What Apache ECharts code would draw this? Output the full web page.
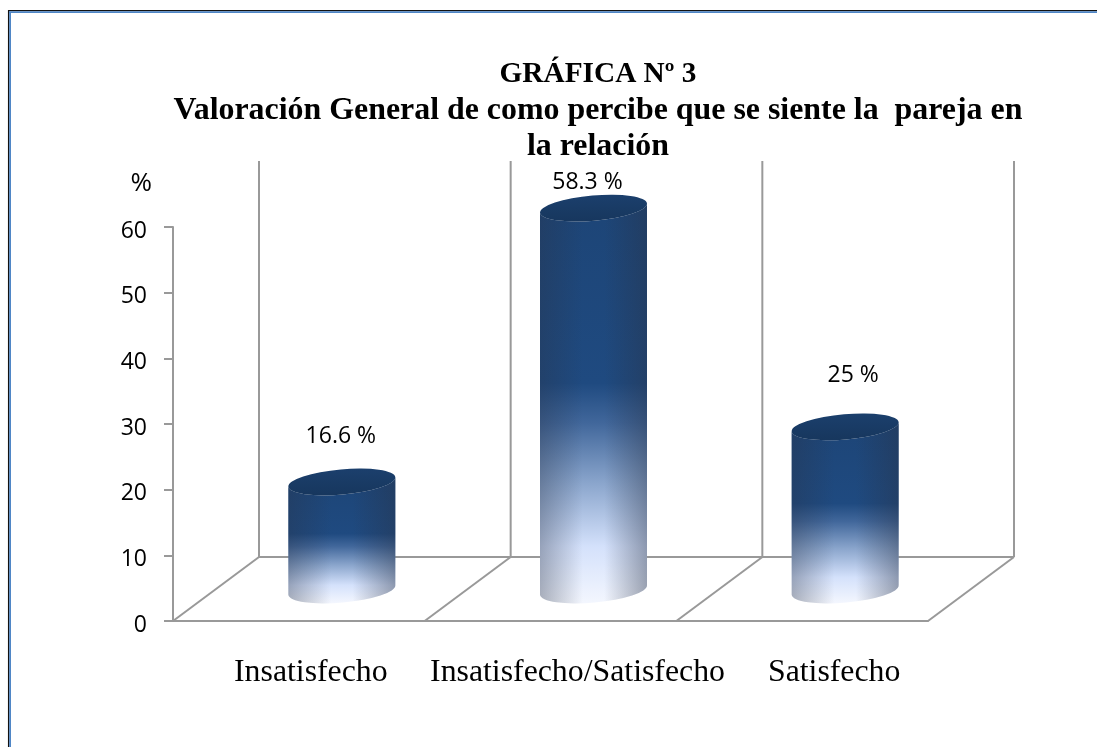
<!DOCTYPE html>
<html>
<head>
<meta charset="utf-8">
<title>Gráfica Nº 3</title>
<style>
  html, body { margin: 0; padding: 0; background: #fff; }
  #chartContainer { width: 1097px; height: 747px; }
</style>
<script src="https://cdn.jsdelivr.net/npm/echarts@6/dist/echarts.min.js"></script>
</head>
<body>
<div id="chartContainer"></div>
<script>
// Datos
const categories = ['Insatisfecho', 'Insatisfecho/Satisfecho', 'Satisfecho'];
const percentValues = [16.6, 58.3, 25];
const valueLabels = ['16.6 %', '58.3 %', '25 %'];
const yTicks = [0, 10, 20, 30, 40, 50, 60];

// Profundidad del falso 3D, en pixeles
const depthX = 86;
const depthY = 64;
const wallExtra = 2;
const lineColor = '#999999';
// Posicion de cada etiqueta respecto a la tapa del cilindro
const labelLift = [46, 26, 51];
const labelShift = [-1, -6, 8];
// Relleno izquierdo de cada etiqueta del eje x, tal como estan descentradas en el original
const catPadding = [24, 54, 64];

const cylRx = 53.7;
const cylRy = 12.6;
const cylTilt = 5 * Math.PI / 180;

function ellipseEnds(cx, cy) {
    const dx = cylRx * Math.cos(cylTilt);
    const dy = cylRx * Math.sin(cylTilt);
    return { lx: cx - dx, ly: cy + dy, rx: cx + dx, ry: cy - dy };
}

function arcTo(x, y, sweep) {
    return `A ${cylRx} ${cylRy} -5 1 ${sweep} ${x} ${y}`;
}

// Paredes y suelo
function renderFrame(params, api) {
    const band = api.size([1, 0])[0];
    const origin = api.coord([0, 0]);
    const top = api.coord([0, yTicks[yTicks.length - 1]]);
    const left = origin[0] - band / 2;
    const n = categories.length;
    const style = { stroke: lineColor, lineWidth: 2, fill: null };
    const children = [];

    for (let i = 0; i <= n; i++) {
        const x = left + band * i;
        children.push({ type: 'line', style, shape: { x1: x + depthX, y1: top[1] - depthY - wallExtra, x2: x + depthX, y2: origin[1] - depthY } });
        children.push({ type: 'line', style, shape: { x1: x, y1: origin[1], x2: x + depthX, y2: origin[1] - depthY } });
    }
    children.push({ type: 'line', style, shape: { x1: left + depthX, y1: origin[1] - depthY, x2: left + band * n + depthX, y2: origin[1] - depthY } });
    return { type: 'group', silent: true, children };
}

// Cilindro de cada categoria, a media profundidad
function renderCylinder(params, api) {
    const i = api.value(0);
    const base = api.coord([i, 0]);
    const head = api.coord([i, api.value(1)]);
    const cx = base[0] + depthX / 2;
    const yb = base[1] - depthY / 2 + 1;
    const yt = head[1] - depthY / 2 + 2;
    const t = ellipseEnds(cx, yt);
    const b = ellipseEnds(cx, yb);

    const body = `M ${t.lx} ${t.ly} L ${b.lx} ${b.ly} ${arcTo(b.rx, b.ry, 0)} L ${t.rx} ${t.ry} ${arcTo(t.lx, t.ly, 1)} Z`;
    const cap = `M ${t.lx} ${t.ly} ${arcTo(t.rx, t.ry, 1)} ${arcTo(t.lx, t.ly, 1)} Z`;

    return {
        type: 'group',
        children: [
            {
                type: 'path',
                shape: { pathData: body, layout: 'none' },
                style: {
                    fill: {
                        type: 'linear', x: 0, y: 0, x2: 0, y2: 1,
                        colorStops: [
                            { offset: 0, color: '#1d4577' },
                            { offset: 0.45, color: '#1f4a80' },
                            { offset: 0.55, color: '#41679b' },
                            { offset: 0.7, color: '#8aa5cc' },
                            { offset: 0.86, color: '#d4e1fb' },
                            { offset: 1, color: '#f3f6fe' }
                        ]
                    }
                }
            },
            {
                type: 'path',
                shape: { pathData: body, layout: 'none' },
                style: {
                    fill: {
                        type: 'linear', x: 0, y: 0, x2: 1, y2: 0,
                        colorStops: [
                            { offset: 0, color: 'rgba(40,50,70,0.36)' },
                            { offset: 0.4, color: 'rgba(40,50,70,0)' },
                            { offset: 0.6, color: 'rgba(40,50,70,0)' },
                            { offset: 1, color: 'rgba(40,50,70,0.42)' }
                        ]
                    }
                }
            },
            {
                type: 'path',
                shape: { pathData: cap, layout: 'none' },
                style: {
                    fill: {
                        type: 'linear', x: 0, y: 0, x2: 0, y2: 1,
                        colorStops: [
                            { offset: 0, color: '#1b3f6c' },
                            { offset: 1, color: '#17375e' }
                        ]
                    }
                }
            },
            {
                type: 'text',
                style: {
                    x: cx + labelShift[i],
                    y: yt - labelLift[i],
                    text: valueLabels[i],
                    align: 'center',
                    verticalAlign: 'middle',
                    fill: '#000',
                    fontFamily: 'Open Sans',
                    fontSize: 23
                }
            }
        ]
    };
}

const chartInstance = echarts.init(document.getElementById('chartContainer'), null, { renderer: 'canvas' });

const catStyle = { fontFamily: 'Liberation Serif', fontSize: 31.8, color: '#000' };
const titleStyle = { fontFamily: 'Liberation Serif', fontWeight: 'bold', color: '#000', lineHeight: 36.5 };

const option = {
    animation: false,
    backgroundColor: '#fff',
    title: {
        text: '{a|GRÁFICA Nº 3}\n{b|Valoración General de como percibe que se siente la  pareja en}\n{b|la relación}',
        left: 598,
        top: 56,
        padding: 0,
        textAlign: 'center',
        textStyle: {
            rich: {
                a: Object.assign({ fontSize: 29.3 }, titleStyle),
                b: Object.assign({ fontSize: 31.9 }, titleStyle)
            }
        }
    },
    grid: { left: 173, right: 169, top: 227, bottom: 126 },
    xAxis: {
        type: 'category',
        data: categories,
        axisLine: { lineStyle: { color: lineColor, width: 2 } },
        axisTick: { show: false },
        axisLabel: {
            interval: 0,
            margin: 36,
            formatter: (value, index) => `{c${index}|${value}}`,
            rich: {
                c0: Object.assign({ padding: [0, 0, 0, catPadding[0]] }, catStyle),
                c1: Object.assign({ padding: [0, 0, 0, catPadding[1]] }, catStyle),
                c2: Object.assign({ padding: [0, 0, 0, catPadding[2]] }, catStyle)
            }
        }
    },
    yAxis: {
        type: 'value',
        min: yTicks[0],
        max: yTicks[yTicks.length - 1],
        interval: 10,
        name: '%',
        nameLocation: 'end',
        nameGap: 30,
        nameTextStyle: { fontFamily: 'Open Sans', fontSize: 26, color: '#000', align: 'right', padding: [0, 21, 0, 0] },
        axisLine: { show: true, lineStyle: { color: lineColor, width: 2 } },
        axisTick: { show: true, length: 9, lineStyle: { color: lineColor, width: 2 } },
        axisLabel: {
            margin: 26,
            formatter: value => `{v|${value}}`,
            rich: { v: { fontFamily: 'Open Sans', fontSize: 23, color: '#000', padding: [8, 0, 0, 0] } }
        },
        splitLine: { show: false }
    },
    graphic: [
        // Marco azul del grafico original, cortado por la derecha y por abajo
        { type: 'line', silent: true, shape: { x1: 8.6, y1: 10, x2: 8.6, y2: 747 }, style: { stroke: '#111', lineWidth: 1.3 } },
        { type: 'line', silent: true, shape: { x1: 10.1, y1: 12, x2: 10.1, y2: 747 }, style: { stroke: '#4f86c6', lineWidth: 1.8 } },
        { type: 'line', silent: true, shape: { x1: 8, y1: 10.6, x2: 1097, y2: 10.6 }, style: { stroke: '#111', lineWidth: 1.3 } },
        { type: 'line', silent: true, shape: { x1: 9, y1: 12.1, x2: 1097, y2: 12.1 }, style: { stroke: '#4f86c6', lineWidth: 1.8 } }
    ],
    series: [
        {
            type: 'custom',
            coordinateSystem: 'cartesian2d',
            renderItem: renderFrame,
            data: [[0, 0]],
            encode: { x: 0, y: 1 },
            silent: true,
            z: 1
        },
        {
            type: 'custom',
            coordinateSystem: 'cartesian2d',
            renderItem: renderCylinder,
            data: percentValues.map((v, i) => [i, v]),
            encode: { x: 0, y: 1 },
            z: 2
        }
    ]
};

chartInstance.setOption(option);
</script>
</body>
</html>
